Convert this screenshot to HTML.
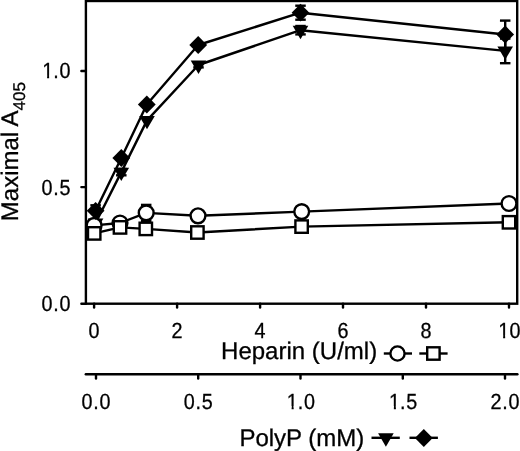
<!DOCTYPE html><html><head><meta charset="utf-8"><style>html,body{margin:0;padding:0;background:#fff;}svg{display:block;will-change:transform}text{text-rendering:geometricPrecision}</style></head><body>
<svg width="520" height="451" viewBox="0 0 520 451">
<rect x="85.9" y="1.0" width="431.30" height="302.70" fill="none" stroke="#000" stroke-width="2.4"/>
<line x1="81.4" y1="303.7" x2="85.9" y2="303.7" stroke="#000" stroke-width="2.4" stroke-linecap="round"/>
<line x1="81.4" y1="187.1" x2="85.9" y2="187.1" stroke="#000" stroke-width="2.4" stroke-linecap="round"/>
<line x1="81.4" y1="71" x2="85.9" y2="71" stroke="#000" stroke-width="2.4" stroke-linecap="round"/>
<line x1="94.1" y1="303.7" x2="94.1" y2="307.5" stroke="#000" stroke-width="2.4" stroke-linecap="round"/>
<line x1="177.1" y1="303.7" x2="177.1" y2="307.5" stroke="#000" stroke-width="2.4" stroke-linecap="round"/>
<line x1="260.1" y1="303.7" x2="260.1" y2="307.5" stroke="#000" stroke-width="2.4" stroke-linecap="round"/>
<line x1="343.0" y1="303.7" x2="343.0" y2="307.5" stroke="#000" stroke-width="2.4" stroke-linecap="round"/>
<line x1="426.0" y1="303.7" x2="426.0" y2="307.5" stroke="#000" stroke-width="2.4" stroke-linecap="round"/>
<line x1="509.0" y1="303.7" x2="509.0" y2="307.5" stroke="#000" stroke-width="2.4" stroke-linecap="round"/>
<line x1="85.8" y1="374.2" x2="517.4" y2="374.2" stroke="#000" stroke-width="2.4" stroke-linecap="round"/>
<line x1="96.0" y1="374.2" x2="96.0" y2="378.6" stroke="#000" stroke-width="2.4" stroke-linecap="round"/>
<line x1="198.2" y1="374.2" x2="198.2" y2="378.6" stroke="#000" stroke-width="2.4" stroke-linecap="round"/>
<line x1="300.5" y1="374.2" x2="300.5" y2="378.6" stroke="#000" stroke-width="2.4" stroke-linecap="round"/>
<line x1="402.8" y1="374.2" x2="402.8" y2="378.6" stroke="#000" stroke-width="2.4" stroke-linecap="round"/>
<line x1="505.0" y1="374.2" x2="505.0" y2="378.6" stroke="#000" stroke-width="2.4" stroke-linecap="round"/>
<text font-family="'Liberation Sans', sans-serif" font-size="21.8" stroke="#000" stroke-width="0.3" transform="translate(40.95,311.10) scale(0.9073,1)" x="0.56 13.53 20.44" y="0">0.0</text>
<text font-family="'Liberation Sans', sans-serif" font-size="21.8" stroke="#000" stroke-width="0.3" transform="translate(40.95,194.50) scale(0.9073,1)" x="0.56 13.53 20.44" y="0">0.5</text>
<text font-family="'Liberation Sans', sans-serif" font-size="21.8" stroke="#000" stroke-width="0.3" transform="translate(40.95,78.40) scale(0.9073,1)" x="1.45 13.53 20.44" y="0">1.0</text><rect x="42.84" y="75.60" width="4.25" height="4.00" fill="#fff"/><rect x="49.13" y="75.60" width="3.94" height="4.00" fill="#fff"/>
<text font-family="'Liberation Sans', sans-serif" font-size="21.8" stroke="#000" stroke-width="0.3" transform="translate(88.09,338.20) scale(0.9073,1)" x="0.56" y="0">0</text>
<text font-family="'Liberation Sans', sans-serif" font-size="21.8" stroke="#000" stroke-width="0.3" transform="translate(171.07,338.20) scale(0.9073,1)" x="0.56" y="0">2</text>
<text font-family="'Liberation Sans', sans-serif" font-size="21.8" stroke="#000" stroke-width="0.3" transform="translate(254.05,338.20) scale(0.9073,1)" x="0.56" y="0">4</text>
<text font-family="'Liberation Sans', sans-serif" font-size="21.8" stroke="#000" stroke-width="0.3" transform="translate(337.03,338.20) scale(0.9073,1)" x="0.56" y="0">6</text>
<text font-family="'Liberation Sans', sans-serif" font-size="21.8" stroke="#000" stroke-width="0.3" transform="translate(420.01,338.20) scale(0.9073,1)" x="0.56" y="0">8</text>
<text font-family="'Liberation Sans', sans-serif" font-size="21.8" stroke="#000" stroke-width="0.3" transform="translate(496.98,338.20) scale(0.9073,1)" x="1.45 13.82" y="0">10</text><rect x="498.87" y="335.40" width="4.25" height="4.00" fill="#fff"/><rect x="505.16" y="335.40" width="3.94" height="4.00" fill="#fff"/>
<text font-family="'Liberation Sans', sans-serif" font-size="21.8" stroke="#000" stroke-width="0.3" transform="translate(80.97,408.90) scale(0.9073,1)" x="0.56 13.53 20.44" y="0">0.0</text>
<text font-family="'Liberation Sans', sans-serif" font-size="21.8" stroke="#000" stroke-width="0.3" transform="translate(183.22,408.90) scale(0.9073,1)" x="0.56 13.53 20.44" y="0">0.5</text>
<text font-family="'Liberation Sans', sans-serif" font-size="21.8" stroke="#000" stroke-width="0.3" transform="translate(285.47,408.90) scale(0.9073,1)" x="1.45 13.53 20.44" y="0">1.0</text><rect x="287.36" y="406.10" width="4.25" height="4.00" fill="#fff"/><rect x="293.66" y="406.10" width="3.94" height="4.00" fill="#fff"/>
<text font-family="'Liberation Sans', sans-serif" font-size="21.8" stroke="#000" stroke-width="0.3" transform="translate(387.72,408.90) scale(0.9073,1)" x="1.45 13.53 20.44" y="0">1.5</text><rect x="389.61" y="406.10" width="4.25" height="4.00" fill="#fff"/><rect x="395.91" y="406.10" width="3.94" height="4.00" fill="#fff"/>
<text font-family="'Liberation Sans', sans-serif" font-size="21.8" stroke="#000" stroke-width="0.3" transform="translate(489.97,408.90) scale(0.9073,1)" x="0.56 13.53 20.44" y="0">2.0</text>
<text font-family="'Liberation Sans', sans-serif" font-size="24" stroke="#000" stroke-width="0.3" x="221.1" y="359.2">Heparin (U/ml)</text>
<text font-family="'Liberation Sans', sans-serif" font-size="24" stroke="#000" stroke-width="0.3" x="239.4" y="445.8">PolyP (mM)</text>
<text font-family="'Liberation Sans', sans-serif" font-size="24" stroke="#000" stroke-width="0.3" transform="translate(17.5,221.2) rotate(-90)">Maximal A<tspan font-size="17" dy="7.5">405</tspan></text>
<polyline points="95.6,223 121.3,172.1 147,120.4 198.5,65.0 300.5,30.2 505.2,50.9" fill="none" stroke="#000" stroke-width="2.4" stroke-linejoin="round"/>
<line x1="95.6" y1="205.3" x2="95.6" y2="223" stroke="#000" stroke-width="2.4"/><line x1="90.35" y1="205.3" x2="100.85" y2="205.3" stroke="#000" stroke-width="2.4"/>
<polygon points="87.8,218.53 103.39999999999999,218.53 95.6,231.93" fill="#000"/>
<line x1="121.3" y1="168.9" x2="121.3" y2="175.29999999999998" stroke="#000" stroke-width="2.4"/><line x1="116.05" y1="168.9" x2="126.55" y2="168.9" stroke="#000" stroke-width="2.4"/><line x1="116.05" y1="175.29999999999998" x2="126.55" y2="175.29999999999998" stroke="#000" stroke-width="2.4"/>
<polygon points="113.5,167.63 129.1,167.63 121.3,181.03" fill="#000"/>
<polygon points="139.2,115.93 154.8,115.93 147,129.33" fill="#000"/>
<line x1="198.5" y1="62.6" x2="198.5" y2="67.4" stroke="#000" stroke-width="2.4"/><line x1="193.25" y1="62.6" x2="203.75" y2="62.6" stroke="#000" stroke-width="2.4"/><line x1="193.25" y1="67.4" x2="203.75" y2="67.4" stroke="#000" stroke-width="2.4"/>
<polygon points="190.7,60.53 206.3,60.53 198.5,73.93" fill="#000"/>
<line x1="300.5" y1="26.0" x2="300.5" y2="34.4" stroke="#000" stroke-width="2.4"/><line x1="295.25" y1="26.0" x2="305.75" y2="26.0" stroke="#000" stroke-width="2.4"/><line x1="295.25" y1="34.4" x2="305.75" y2="34.4" stroke="#000" stroke-width="2.4"/>
<polygon points="292.7,25.73 308.3,25.73 300.5,39.13" fill="#000"/>
<line x1="505.2" y1="38.599999999999994" x2="505.2" y2="63.2" stroke="#000" stroke-width="2.4"/><line x1="499.95" y1="38.599999999999994" x2="510.45" y2="38.599999999999994" stroke="#000" stroke-width="2.4"/><line x1="499.95" y1="63.2" x2="510.45" y2="63.2" stroke="#000" stroke-width="2.4"/>
<polygon points="497.4,46.43 513.0,46.43 505.2,59.83" fill="#000"/>
<polyline points="94.1,225.4 120,223.0 146.2,212.9 198,215.8 301.7,211.6 509,203.5" fill="none" stroke="#000" stroke-width="2.4" stroke-linejoin="round"/>
<circle cx="94.1" cy="225.4" r="7.4" fill="#fff" stroke="#000" stroke-width="2.4"/>
<circle cx="120" cy="223.0" r="7.4" fill="#fff" stroke="#000" stroke-width="2.4"/>
<line x1="146.2" y1="204.9" x2="146.2" y2="220.9" stroke="#000" stroke-width="2.4"/><line x1="140.95" y1="204.9" x2="151.45" y2="204.9" stroke="#000" stroke-width="2.4"/><line x1="140.95" y1="220.9" x2="151.45" y2="220.9" stroke="#000" stroke-width="2.4"/>
<circle cx="146.2" cy="212.9" r="7.4" fill="#fff" stroke="#000" stroke-width="2.4"/>
<circle cx="198" cy="215.8" r="7.4" fill="#fff" stroke="#000" stroke-width="2.4"/>
<circle cx="301.7" cy="211.6" r="7.4" fill="#fff" stroke="#000" stroke-width="2.4"/>
<circle cx="509" cy="203.5" r="7.4" fill="#fff" stroke="#000" stroke-width="2.4"/>
<polyline points="94.2,233.4 120,227.4 145.8,228.9 197.4,232.5 301.6,226.6 509,222.3" fill="none" stroke="#000" stroke-width="2.4" stroke-linejoin="round"/>
<rect x="88.0" y="227.20000000000002" width="12.4" height="12.4" fill="#fff" stroke="#000" stroke-width="2.4"/>
<rect x="113.8" y="221.20000000000002" width="12.4" height="12.4" fill="#fff" stroke="#000" stroke-width="2.4"/>
<rect x="139.60000000000002" y="222.70000000000002" width="12.4" height="12.4" fill="#fff" stroke="#000" stroke-width="2.4"/>
<rect x="191.20000000000002" y="226.3" width="12.4" height="12.4" fill="#fff" stroke="#000" stroke-width="2.4"/>
<rect x="295.40000000000003" y="220.4" width="12.4" height="12.4" fill="#fff" stroke="#000" stroke-width="2.4"/>
<rect x="502.8" y="216.10000000000002" width="12.4" height="12.4" fill="#fff" stroke="#000" stroke-width="2.4"/>
<polyline points="95.6,210.8 121.3,158 146.8,104.5 198.2,45 300.5,12.7 505.2,34.5" fill="none" stroke="#000" stroke-width="2.4" stroke-linejoin="round"/>
<polygon points="95.6,201.9 104.5,210.8 95.6,219.70000000000002 86.69999999999999,210.8" fill="#000"/>
<polygon points="121.3,149.1 130.2,158 121.3,166.9 112.39999999999999,158" fill="#000"/>
<polygon points="146.8,95.6 155.70000000000002,104.5 146.8,113.4 137.9,104.5" fill="#000"/>
<polygon points="198.2,36.1 207.1,45 198.2,53.9 189.29999999999998,45" fill="#000"/>
<line x1="300.5" y1="5.699999999999999" x2="300.5" y2="19.7" stroke="#000" stroke-width="2.4"/><line x1="295.25" y1="5.699999999999999" x2="305.75" y2="5.699999999999999" stroke="#000" stroke-width="2.4"/><line x1="295.25" y1="19.7" x2="305.75" y2="19.7" stroke="#000" stroke-width="2.4"/>
<polygon points="300.5,3.799999999999999 309.4,12.7 300.5,21.6 291.6,12.7" fill="#000"/>
<line x1="505.2" y1="20.6" x2="505.2" y2="48.4" stroke="#000" stroke-width="2.4"/><line x1="499.95" y1="20.6" x2="510.45" y2="20.6" stroke="#000" stroke-width="2.4"/><line x1="499.95" y1="48.4" x2="510.45" y2="48.4" stroke="#000" stroke-width="2.4"/>
<polygon points="505.2,25.6 514.1,34.5 505.2,43.4 496.3,34.5" fill="#000"/>
<line x1="383.8" y1="353.5" x2="412" y2="353.5" stroke="#000" stroke-width="2.4"/>
<circle cx="397.5" cy="353.5" r="7.1" fill="#fff" stroke="#000" stroke-width="2.4"/>
<line x1="419.3" y1="353.5" x2="447.6" y2="353.5" stroke="#000" stroke-width="2.4"/>
<rect x="427.2" y="347.3" width="12.4" height="12.4" fill="#fff" stroke="#000" stroke-width="2.4"/>
<line x1="371.5" y1="437.8" x2="399.8" y2="437.8" stroke="#000" stroke-width="2.4"/>
<polygon points="378.09999999999997,433.33 393.7,433.33 385.9,446.73" fill="#000"/>
<line x1="409.5" y1="437.8" x2="437.9" y2="437.8" stroke="#000" stroke-width="2.4"/>
<polygon points="423.8,429.1 432.7,438 423.8,446.9 414.90000000000003,438" fill="#000"/>
</svg></body></html>
